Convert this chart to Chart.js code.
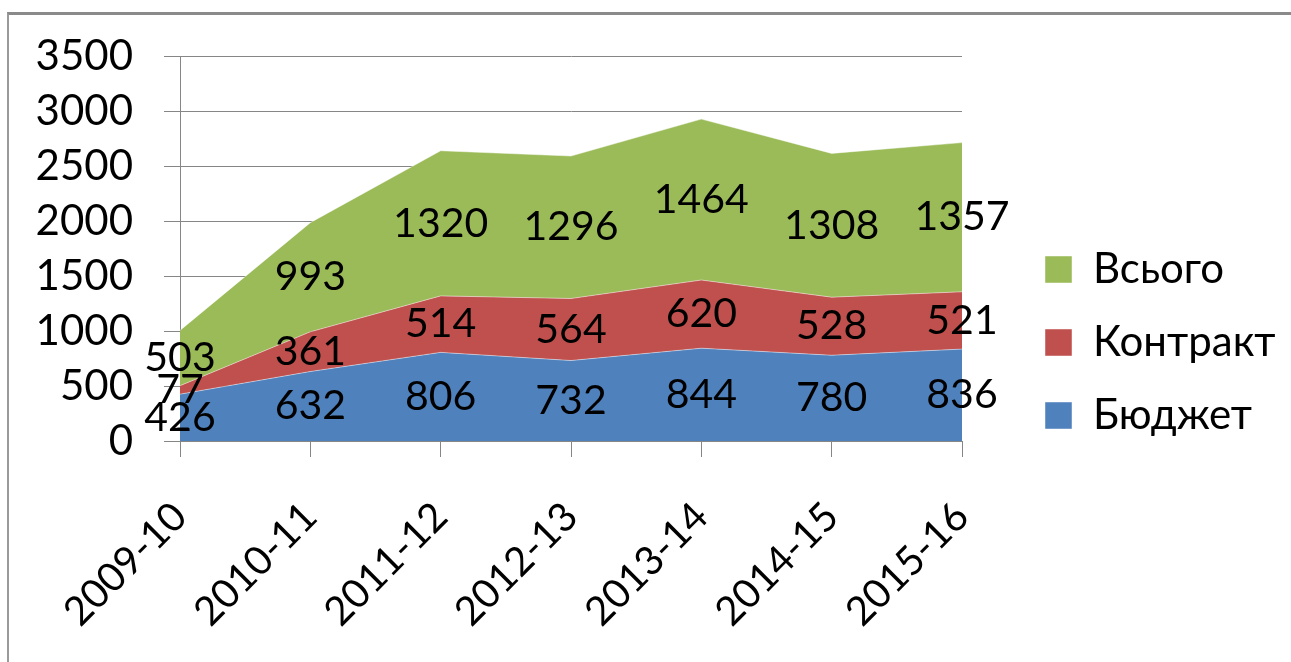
<!DOCTYPE html>
<html>
<head>
    <title>Бюджет / Контракт</title>
    <script src="https://cdn.jsdelivr.net/npm/chart.js@4/dist/chart.umd.min.js"></script>
    <style>
        body { margin: 0; background: #fff; font-family: Lato, sans-serif; }
        .frame { position: relative; width: 1291px; height: 662px; overflow: hidden; }
        .border {
            position: absolute; left: 7px; top: 12px; right: -10px; bottom: -10px;
            border-top: 3px solid #8a8a8a;
            border-left: 2px solid #9a9a9a;
        }
        canvas { position: absolute; left: 0; top: 0; }
    </style>
</head>
<body>
    <div class="frame">
        <div class="border"></div>
        <canvas id="chart" width="1291" height="662"></canvas>
    </div>

    <script>
        // Data
        const years = ['2009-10', '2010-11', '2011-12', '2012-13', '2013-14', '2014-15', '2015-16'];
        const budget = [426, 632, 806, 732, 844, 780, 836];
        const contract = [77, 361, 514, 564, 620, 528, 521];
        const total = [503, 993, 1320, 1296, 1464, 1308, 1357];
        const yTicks = [0, 500, 1000, 1500, 2000, 2500, 3000, 3500];

        const gridGray = '#868686';

        // value labels in the middle of each band
        const bandLabels = {
            id: 'bandLabels',
            afterDatasetsDraw(chart) {
                const ctx = chart.ctx;
                const y = chart.scales.y;
                const sets = chart.data.datasets;
                ctx.save();
                ctx.font = '41px Lato';
                ctx.fillStyle = '#000';
                ctx.textAlign = 'center';
                ctx.textBaseline = 'middle';
                sets.forEach((ds, i) => {
                    const meta = chart.getDatasetMeta(i);
                    meta.data.forEach((pt, j) => {
                        let base = 0;
                        for (let k = 0; k < i; k++) base += sets[k].data[j];
                        ctx.fillText(String(ds.data[j]), pt.x, y.getPixelForValue(base + ds.data[j] / 2));
                    });
                });
                ctx.restore();
            }
        };

        // keep the legend box a fixed width so the plot ends where it should
        const legendWidth = {
            id: 'legendWidth',
            beforeLayout(chart) {
                const lg = chart.legend;
                if (!lg || lg._fixed) return;
                const fit = lg.fit;
                lg.fit = function () {
                    fit.call(this);
                    this.width = 277;
                };
                lg._fixed = true;
            }
        };

        const ctx = document.getElementById('chart').getContext('2d');
        new Chart(ctx, {
            type: 'line',
            data: {
                labels: years,
                datasets: [{
                    label: 'Бюджет',
                    data: budget,
                    backgroundColor: '#4F81BD',
                    borderColor: 'rgba(255,255,255,0.45)',
                    borderWidth: 1,
                    fill: 'origin'
                }, {
                    label: 'Контракт',
                    data: contract,
                    backgroundColor: '#C0504D',
                    borderColor: 'rgba(255,255,255,0.45)',
                    borderWidth: 1,
                    fill: '-1'
                }, {
                    label: 'Всього',
                    data: total,
                    backgroundColor: '#9BBB59',
                    borderColor: 'rgba(255,255,255,0.45)',
                    borderWidth: 1,
                    fill: '-1'
                }]
            },
            options: {
                responsive: false,
                animation: false,
                events: [],
                elements: {
                    line: { tension: 0 },
                    point: { radius: 0, hoverRadius: 0 }
                },
                layout: { padding: { top: 31, left: 0, right: 0, bottom: 8 } },
                scales: {
                    x: {
                        offset: false,
                        grid: { drawOnChartArea: false, color: gridGray, tickLength: 16 },
                        border: { color: gridGray },
                        ticks: {
                            minRotation: 45,
                            maxRotation: 45,
                            autoSkip: false,
                            padding: 36,
                            color: '#000',
                            font: { family: 'Lato', size: 40 }
                        },
                        afterFit(s) { s.height = 213; }
                    },
                    y: {
                        stacked: true,
                        min: 0,
                        max: 3500,
                        afterBuildTicks(s) { s.ticks = yTicks.map(v => ({ value: v })); },
                        grid: { color: gridGray, tickLength: 16 },
                        border: { color: gridGray },
                        ticks: {
                            padding: 31,
                            color: '#000',
                            font: { family: 'Lato', size: 42 },
                            callback: v => String(v)
                        },
                        afterFit(s) { s.width = 180; }
                    },
                    gap: {
                        type: 'linear',
                        position: 'right',
                        grid: { display: false },
                        border: { display: false },
                        ticks: { display: false },
                        afterFit(s) { s.width = 52; }
                    }
                },
                plugins: {
                    legend: {
                        position: 'right',
                        reverse: true,
                        labels: {
                            boxWidth: 27,
                            boxHeight: 27,
                            padding: 31,
                            color: '#000',
                            font: { family: 'Lato', size: 42 }
                        }
                    },
                    tooltip: { enabled: false }
                }
            },
            plugins: [bandLabels, legendWidth]
        });
    </script>
</body>
</html>
